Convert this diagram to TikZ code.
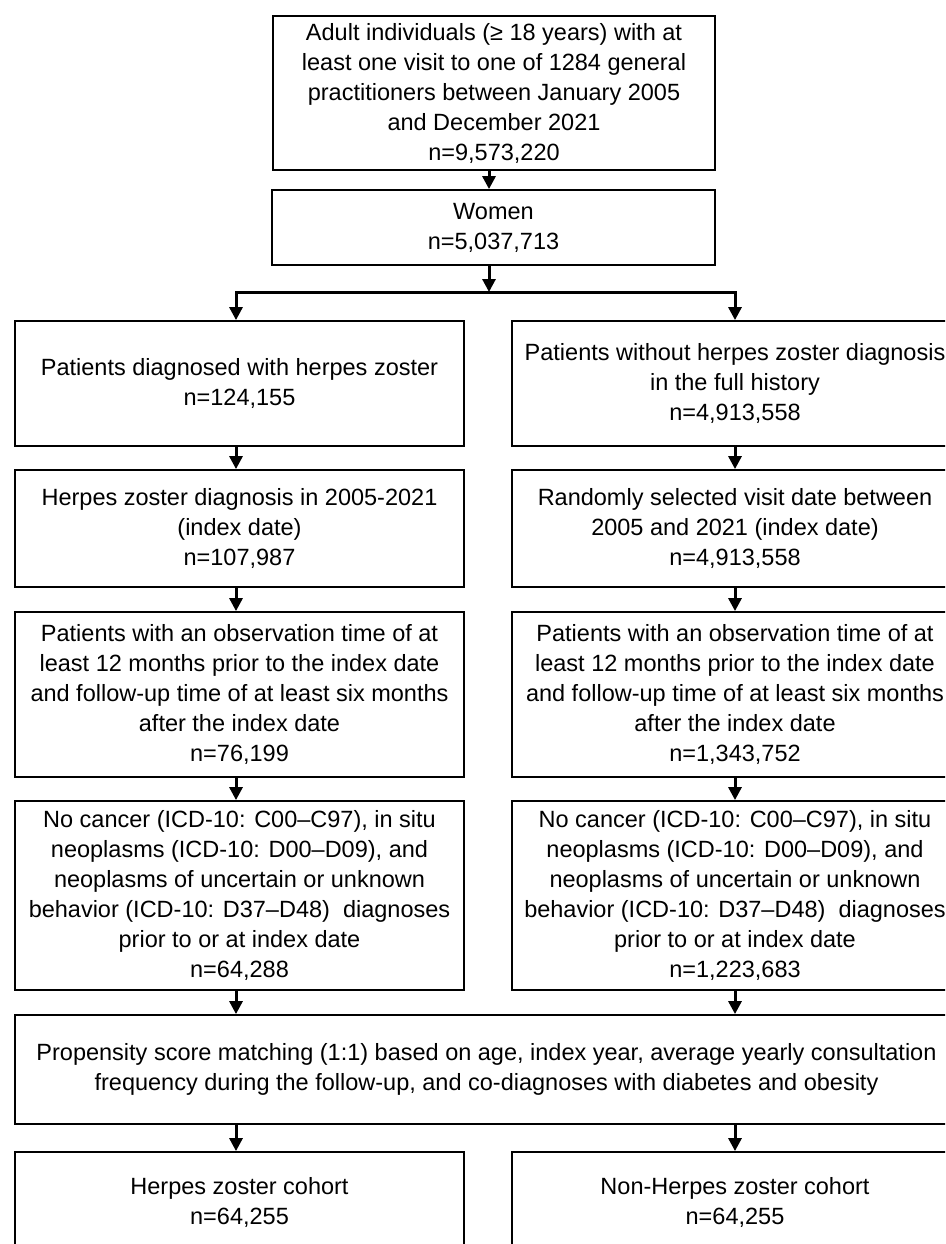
\documentclass[tikz,border=0pt]{standalone}
\usepackage{fontspec}
\setmainfont{Liberation Sans}
\usetikzlibrary{arrows.meta}
\begin{document}
\begin{tikzpicture}[x=1pt,y=-1pt,
  box/.style={draw=black,line width=1.8pt,inner sep=0pt,align=center,
    font=\fontsize{23.5}{30}\selectfont,text=black},
  arr/.style={line width=3pt,-{Triangle[length=13pt,width=13pt]}},
  plain/.style={line width=3pt}]
\useasboundingbox (0,0) rectangle (945,1244);
\fill[white] (0,0) rectangle (945,1244);
\begin{scope}
\clip (0,0) rectangle (945,1244);
\node[box,minimum width=442pt,minimum height=154pt] (top) at (494,93)
 {Adult individuals (≥ 18 years) with at\\least one visit to one of 1284 general\\practitioners between January 2005\\and December 2021\\n=9,573,220};
\node[box,minimum width=443pt,minimum height=75pt] (women) at (493.5,227.5)
 {Women\\n=5,037,713};
\node[box,minimum width=449pt,minimum height=125pt] (l1) at (239.5,383.5)
 {Patients diagnosed with herpes zoster\\n=124,155};
\node[box,minimum width=446pt,minimum height=125pt] (r1) at (735,383.5)
 {Patients without herpes zoster diagnosis\\in the full history\\n=4,913,558};
\node[box,minimum width=449pt,minimum height=117pt] (l2) at (239.5,528.5)
 {Herpes zoster diagnosis in 2005-2021\\(index date)\\n=107,987};
\node[box,minimum width=446pt,minimum height=117pt] (r2) at (735,528.5)
 {Randomly selected visit date between\\2005 and 2021 (index date)\\n=4,913,558};
\node[box,minimum width=449pt,minimum height=165pt] (l3) at (239.5,694.5)
 {Patients with an observation time of at\\least 12 months prior to the index date\\and follow-up time of at least six months\\after the index date\\n=76,199};
\node[box,minimum width=446pt,minimum height=165pt] (r3) at (735,694.5)
 {Patients with an observation time of at\\least 12 months prior to the index date\\and follow-up time of at least six months\\after the index date\\n=1,343,752};
\node[box,minimum width=449pt,minimum height=189pt] (l4) at (239.5,895.5)
 {No cancer (ICD-10: C00–C97), in situ\\neoplasms (ICD-10: D00–D09), and\\neoplasms of uncertain or unknown\\behavior (ICD-10: D37–D48)\ \ diagnoses\\prior to or at index date\\n=64,288};
\node[box,minimum width=446pt,minimum height=189pt] (r4) at (735,895.5)
 {No cancer (ICD-10: C00–C97), in situ\\neoplasms (ICD-10: D00–D09), and\\neoplasms of uncertain or unknown\\behavior (ICD-10: D37–D48)\ \ diagnoses\\prior to or at index date\\n=1,223,683};
\node[box,minimum width=943pt,minimum height=109pt] (psm) at (486.5,1069.5)
 {Propensity score matching (1:1) based on age, index year, average yearly consultation\\frequency during the follow-up, and co-diagnoses with diabetes and obesity};
\node[box,minimum width=449pt,minimum height=100pt] (l6) at (239.5,1202)
 {Herpes zoster cohort\\n=64,255};
\node[box,minimum width=446pt,minimum height=100pt] (r6) at (735,1202)
 {Non-Herpes zoster cohort\\n=64,255};
\coordinate (mx) at (489,0);
\coordinate (lx) at (236,0);
\coordinate (rx) at (735,0);
\coordinate (split) at (489,292);
\coordinate (splitl) at (236,292);
\coordinate (splitr) at (735,292);
\draw[arr] (top.south -| mx) -- (women.north -| mx);
\draw[arr] (women.south -| mx) -- (split);
\draw[plain,line cap=rect] (splitl) -- (splitr);
\draw[arr] (splitl) -- (l1.north -| lx);
\draw[arr] (splitr) -- (r1.north -| rx);
\draw[arr] (l1.south -| lx) -- (l2.north -| lx);
\draw[arr] (r1.south -| rx) -- (r2.north -| rx);
\draw[arr] (l2.south -| lx) -- (l3.north -| lx);
\draw[arr] (r2.south -| rx) -- (r3.north -| rx);
\draw[arr] (l3.south -| lx) -- (l4.north -| lx);
\draw[arr] (r3.south -| rx) -- (r4.north -| rx);
\draw[arr] (l4.south -| lx) -- (psm.north -| lx);
\draw[arr] (r4.south -| rx) -- (psm.north -| rx);
\draw[arr] (psm.south -| lx) -- (l6.north -| lx);
\draw[arr] (psm.south -| rx) -- (r6.north -| rx);
\end{scope}
\end{tikzpicture}
\end{document}
